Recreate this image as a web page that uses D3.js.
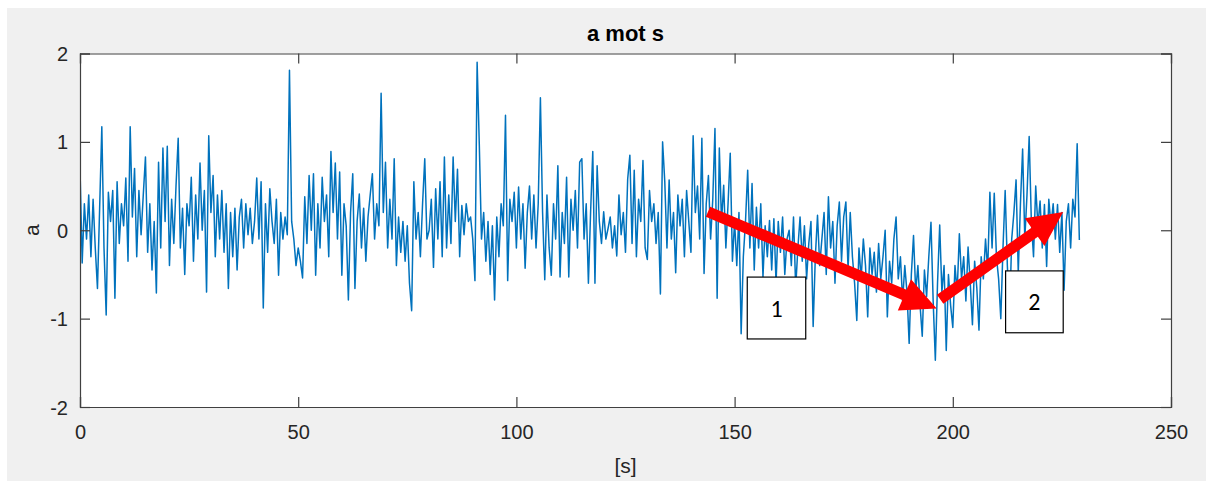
<!DOCTYPE html>
<html>
<head>
<meta charset="utf-8">
<script src="https://cdn.jsdelivr.net/npm/d3@7"></script>
<style>
  html, body { margin: 0; padding: 0; background: #ffffff; }
  svg { display: block; }
</style>
</head>
<body>
<svg id="chart" width="1206" height="481"></svg>
<script>
const sampleStep = 0.5;
const seg000 = [0.70,-0.37,0.30,-0.10,0.40,-0.30,0.35,-0.20,-0.66,0.25,1.17,-0.20,-0.96,0.43,0.10,0.45,-0.77,0.55,-0.15,0.30];
const seg010 = [0.05,0.59,-0.35,1.17,0.15,0.70,-0.30,0.45,-0.05,0.40,0.83,-0.25,0.30,-0.45,0.10,-0.71,0.77,-0.20,0.93,0.10];
const seg020 = [0.95,-0.40,0.35,-0.15,0.50,1.04,-0.20,0.25,-0.50,0.30,0.05,0.60,-0.35,0.40,-0.10,0.76,0.00,0.45,-0.70,1.07];
const seg030 = [0.20,0.62,-0.30,0.40,-0.10,0.45,-0.25,0.30,-0.66,0.20,-0.30,0.25,-0.45,0.15,0.35,-0.20,0.30,-0.05,0.25,-0.15];
const seg040 = [0.10,0.59,-0.10,0.55,-0.88,0.30,-0.25,0.47,0.10,-0.15,0.35,-0.51,0.20,-0.10,0.15,-0.05,1.81,0.10,-0.10,-0.40];
const seg050 = [-0.20,-0.35,-0.54,0.38,-0.15,0.62,0.00,0.64,-0.51,0.30,-0.20,0.60,0.10,0.40,-0.30,0.89,0.20,0.76,-0.10,0.66];
const seg060 = [-0.51,0.30,0.05,-0.79,0.20,0.64,-0.66,0.10,0.41,-0.20,0.25,-0.35,0.15,0.40,0.64,-0.10,0.30,0.05,1.55,0.20];
const seg070 = [0.77,-0.20,0.35,-0.10,0.81,-0.40,0.15,-0.25,0.10,-0.35,0.05,-0.60,-0.91,0.55,-0.10,0.20,-0.30,0.30,0.81,-0.10];
const seg080 = [0.00,0.35,-0.42,0.47,-0.10,0.55,-0.30,0.83,-0.20,0.40,-0.15,0.83,0.10,0.69,-0.30,0.28,-0.05,0.30,0.10,0.15];
const seg090 = [-0.10,-0.57,1.90,0.97,-0.10,0.20,-0.35,0.10,-0.50,0.05,-0.79,0.15,-0.30,0.30,0.05,1.30,-0.57,0.35,0.10,0.43];
const seg100 = [-0.20,0.49,-0.10,0.30,-0.43,0.20,0.50,-0.10,0.40,-0.20,0.30,1.50,0.20,-0.56,0.40,-0.20,-0.51,0.30,-0.10,0.73];
const seg110 = [-0.53,0.20,-0.15,0.60,-0.53,0.35,0.00,0.45,-0.20,0.77,0.81,-0.10,0.30,-0.60,0.20,0.89,-0.60,0.73,0.10,-0.15];
const seg120 = [0.21,-0.10,0.02,0.15,-0.20,0.05,-0.29,0.40,-0.05,0.20,-0.25,0.58,0.85,-0.15,0.68,-0.30,0.35,0.10,0.79,-0.20];
const seg130 = [-0.33,0.45,0.10,0.30,-0.15,0.20,-0.72,1.00,0.55,-0.20,0.57,-0.10,0.20,-0.48,0.40,0.05,0.35,-0.30,0.45,0.10];
const seg140 = [-0.25,1.07,0.20,0.50,-0.10,1.04,-0.49,0.30,0.62,-0.10,0.35,1.15,-0.77,0.93,0.10,0.51,-0.20,0.30,0.87,-0.35];
const seg150 = [0.10,-0.40,0.20,-1.17,-0.30,0.10,0.68,-0.20,0.53,-0.45,0.26,-0.20,0.30,-0.53,0.05,-0.30,0.11,-0.45,0.13,-0.60];
const seg160 = [0.10,-0.25,0.15,-0.50,-0.10,0.00,-0.40,0.15,-0.65,-0.20,0.15,-0.35,0.05,-0.55,-0.15,0.10,-1.09,-0.30,0.17,-0.40];
const seg170 = [-0.10,0.20,-0.50,0.38,-0.20,0.10,-0.60,0.05,0.32,-0.35,0.15,0.32,-0.45,0.20,-0.30,-0.60,-1.02,-0.20,-0.55,-0.10];
const seg180 = [-0.40,-0.98,-0.20,-0.50,-0.25,-0.70,-0.15,-0.55,-0.30,0.00,-0.98,-0.35,-0.60,-0.10,0.15,-0.55,-0.30,-0.80,-0.40,-0.70];
const seg190 = [-1.28,-0.50,-0.06,-0.70,-0.40,-0.85,-1.20,-0.45,-0.75,-0.30,0.09,-0.80,-1.47,-0.60,0.06,-0.70,-0.40,-1.36,-0.50,-0.85];
const seg200 = [-1.10,-0.40,-0.70,-0.04,-0.55,-0.30,-0.80,-0.19,-0.60,-1.07,-0.35,-0.65,-1.13,-0.30,-0.55,-0.10,-0.45,0.43,-0.20,0.42];
const seg210 = [-0.30,-0.55,-1.00,-0.20,0.45,-0.40,-0.98,-0.10,0.20,0.57,-0.48,0.30,0.92,-0.10,0.40,1.06,0.10,-0.30,0.50,0.05];
const seg220 = [0.33,-0.20,0.29,-0.41,0.35,0.05,0.30,-0.10,0.29,-0.25,0.20,-0.68,0.10,0.30,-0.20,0.35,0.15,0.98,-0.11];

const values = [].concat(seg000,seg010,seg020,seg030,seg040,seg050,seg060,seg070,seg080,seg090,
  seg100,seg110,seg120,seg130,seg140,seg150,seg160,seg170,seg180,seg190,seg200,seg210,seg220);
const times = values.map((v, i) => i * sampleStep);

const xTicks = [0, 50, 100, 150, 200, 250];
const yTicks = [-2, -1, 0, 1, 2];
const titleText = "a mot s";
const xLabelText = "[s]";
const yLabelText = "a";

// Annotations (in data coordinates)
const arrows = [
  { from: [143.9, 0.21], to: [196.3, -0.886] },
  { from: [197.1, -0.78], to: [225.3, 0.207] }
];
const boxes = [
  { label: "1", t0: 152.9, t1: 166.3, v0: -0.53, v1: -1.23 },
  { label: "2", t0: 212.1, t1: 225.3, v0: -0.46, v1: -1.16 }
];

// ---- Layout ----
const svg = d3.select("#chart");
const L = 80, R = 1171, T = 53.5, B = 407;
const x = d3.scaleLinear().domain([0, 250]).range([L, R]);
const y = d3.scaleLinear().domain([-2, 2]).range([B, T]);
const axisColor = "#404040";
const textColor = "#262626";
const fontFam = "Arial, 'Liberation Sans', Helvetica, sans-serif";

// figure background
svg.append("rect").attr("x", 7).attr("y", 8).attr("width", 1199).attr("height", 473).attr("fill", "#f0f0f0");
// plot area
svg.append("rect").attr("x", L).attr("y", T).attr("width", R - L).attr("height", B - T).attr("fill", "#ffffff");

svg.append("clipPath").attr("id", "clip").append("rect")
  .attr("x", L).attr("y", T).attr("width", R - L).attr("height", B - T);

// data line
const line = d3.line().x((d, i) => x(times[i])).y(d => y(d));
svg.append("path").datum(values)
  .attr("clip-path", "url(#clip)")
  .attr("fill", "none").attr("stroke", "#0072BD").attr("stroke-width", 1.5)
  .attr("stroke-linejoin", "round")
  .attr("d", line);

// axes (box + inward ticks)
const tickLen = 10;
const fmt = d => String(d);
const gx = svg.append("g").attr("transform", `translate(0,${B})`)
  .call(d3.axisBottom(x).tickValues(xTicks).tickSize(-tickLen).tickPadding(18).tickFormat(fmt));
const gxTop = svg.append("g").attr("transform", `translate(0,${T})`)
  .call(d3.axisTop(x).tickValues(xTicks).tickSize(-tickLen).tickFormat(""));
const gy = svg.append("g").attr("transform", `translate(${L},0)`)
  .call(d3.axisLeft(y).tickValues(yTicks).tickSize(-tickLen).tickPadding(12).tickFormat(fmt));
const gyR = svg.append("g").attr("transform", `translate(${R},0)`)
  .call(d3.axisRight(y).tickValues(yTicks).tickSize(-tickLen).tickFormat(""));

[gx, gxTop, gy, gyR].forEach(g => {
  g.selectAll("path.domain").attr("stroke", axisColor).attr("stroke-width", 1.2);
  g.selectAll(".tick line").attr("stroke", axisColor).attr("stroke-width", 1.2);
  g.selectAll(".tick text").attr("fill", textColor).attr("font-size", 20).attr("font-family", fontFam);
});
gy.selectAll(".tick text").attr("dy", "0.35em");
gx.selectAll(".tick text").attr("dy", "0.71em");

// labels
svg.append("text").attr("x", (L + R) / 2).attr("y", 41).attr("text-anchor", "middle")
  .attr("font-family", fontFam).attr("font-size", 22).attr("font-weight", "bold").attr("fill", "#000")
  .text(titleText);
svg.append("text").attr("x", (L + R) / 2).attr("y", 473).attr("text-anchor", "middle")
  .attr("font-family", fontFam).attr("font-size", 21).attr("fill", textColor).text(xLabelText);
svg.append("text").attr("transform", `translate(39,${y(0)}) rotate(-90)`).attr("text-anchor", "middle")
  .attr("font-family", fontFam).attr("font-size", 21).attr("fill", textColor).text(yLabelText);

// boxes
boxes.forEach(b => {
  const x0 = x(b.t0), x1 = x(b.t1), y0 = y(b.v0), y1 = y(b.v1);
  svg.append("rect").attr("x", x0).attr("y", y0).attr("width", x1 - x0).attr("height", y1 - y0)
    .attr("fill", "#ffffff").attr("stroke", "#000").attr("stroke-width", 1.2);
  svg.append("text").attr("x", (x0 + x1) / 2).attr("y", (y0 + y1) / 2).attr("dy", "0.36em")
    .attr("text-anchor", "middle").attr("font-family", "Carlito, Calibri, 'Liberation Sans', Arial, sans-serif")
    .attr("font-size", 24).attr("fill", "#000").text(b.label);
});

// arrows
const shaftHalf = 5.5, headLen = 35, headHalf = 17;
arrows.forEach(a => {
  const sx = x(a.from[0]), sy = y(a.from[1]), ex = x(a.to[0]), ey = y(a.to[1]);
  const dx = ex - sx, dy = ey - sy, len = Math.hypot(dx, dy);
  const ux = dx / len, uy = dy / len, nx = -uy, ny = ux;
  const bx = ex - ux * headLen, by = ey - uy * headLen;
  const pts = [
    [sx + nx * shaftHalf, sy + ny * shaftHalf],
    [bx + nx * shaftHalf, by + ny * shaftHalf],
    [bx + nx * headHalf, by + ny * headHalf],
    [ex, ey],
    [bx - nx * headHalf, by - ny * headHalf],
    [bx - nx * shaftHalf, by - ny * shaftHalf],
    [sx - nx * shaftHalf, sy - ny * shaftHalf]
  ];
  svg.append("polygon").attr("points", pts.map(p => p.join(",")).join(" ")).attr("fill", "#ff0000");
});
</script>
</body>
</html>
